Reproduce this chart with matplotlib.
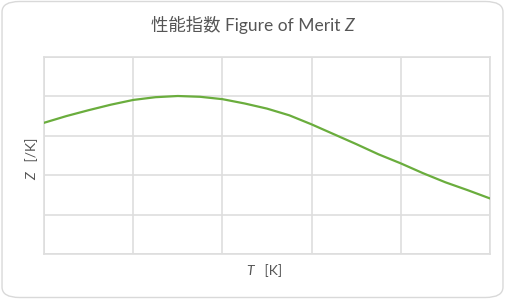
import matplotlib
matplotlib.use('Agg')
import matplotlib.pyplot as plt
from matplotlib.patches import FancyBboxPatch

plt.rcParams['font.family'] = ['Lato', 'Noto Sans CJK JP', 'DejaVu Sans']

# values (no tick labels, arbitrary units)
T = [0.0, 0.25, 0.5, 0.75, 1.0, 1.25, 1.5, 1.75, 2.0, 2.25, 2.5,
     2.75, 3.0, 3.25, 3.5, 3.75, 4.0, 4.25, 4.5, 4.75, 5.0]
Z = [3.33, 3.50, 3.65, 3.79, 3.91, 3.98, 4.01, 3.99, 3.93, 3.82, 3.69,
     3.52, 3.29, 3.04, 2.79, 2.53, 2.30, 2.05, 1.82, 1.62, 1.41]

title = ('性能指数 Figure of Merit ', 'Z')
xlabel = ('T', '   [K]')
ylabel = ('Z', '   [/K]')

fig = plt.figure(figsize=(5.05, 2.99), dpi=100)
renderer = fig.canvas.get_renderer()

# rounded card border
card = FancyBboxPatch((0.004, 0.005), 0.992, 0.99,
                      boxstyle='round,pad=0,rounding_size=0.035',
                      transform=fig.transFigure, facecolor='white',
                      edgecolor='#d9d9d9', linewidth=1.0, zorder=-10)
fig.patches.append(card)

ax = fig.add_axes([44 / 505, 45 / 299, 446 / 505, 197 / 299])
ax.plot(T, Z, color='#6aad3d', linewidth=1.6, zorder=3)

ax.set_xlim(0, 5)
ax.set_ylim(0, 5)
ax.set_xticks([0, 1, 2, 3, 4, 5])
ax.set_yticks([0, 1, 2, 3, 4, 5])
ax.tick_params(length=0, labelleft=False, labelbottom=False)
ax.grid(True, color='#dedede', linewidth=1.2)
for s in ax.spines.values():
    s.set_color('#dedede')
    s.set_linewidth(1.2)
ax.set_facecolor('none')


def two_part(x, y, parts, italic_first, size, rotation=0, family=None):
    # two text pieces on one baseline, one of them italic, centred on (x, y)
    styles = ['italic', 'normal'] if italic_first else ['normal', 'italic']
    kw = dict(fontsize=size, color='#555555', rotation=rotation,
              va='baseline', ha='left', rotation_mode='anchor')
    if family:
        kw['family'] = family
    t1 = fig.text(0, 0, parts[0], style=styles[0], **kw)
    t2 = fig.text(0, 0, parts[1], style=styles[1], **kw)
    w1 = t1.get_window_extent(renderer)
    w2 = t2.get_window_extent(renderer)
    if rotation == 0:
        x0 = x * 505 - (w1.width + w2.width) / 2
        t1.set_position((x0 / 505, y))
        t2.set_position(((x0 + w1.width) / 505, y))
    else:
        y0 = y * 299 - (w1.height + w2.height) / 2
        t1.set_position((x, y0 / 299))
        t2.set_position((x, (y0 + w1.height) / 299))


two_part(0.5, 1 - 31 / 299, title, False, 12.5)
two_part(264 / 505, 1 - 275 / 299, xlabel, True, 10, family='Lato')
two_part(36 / 505, 1 - 159 / 299, ylabel, True, 10, rotation=90, family='Lato')

fig.savefig('out.png', dpi=100)
